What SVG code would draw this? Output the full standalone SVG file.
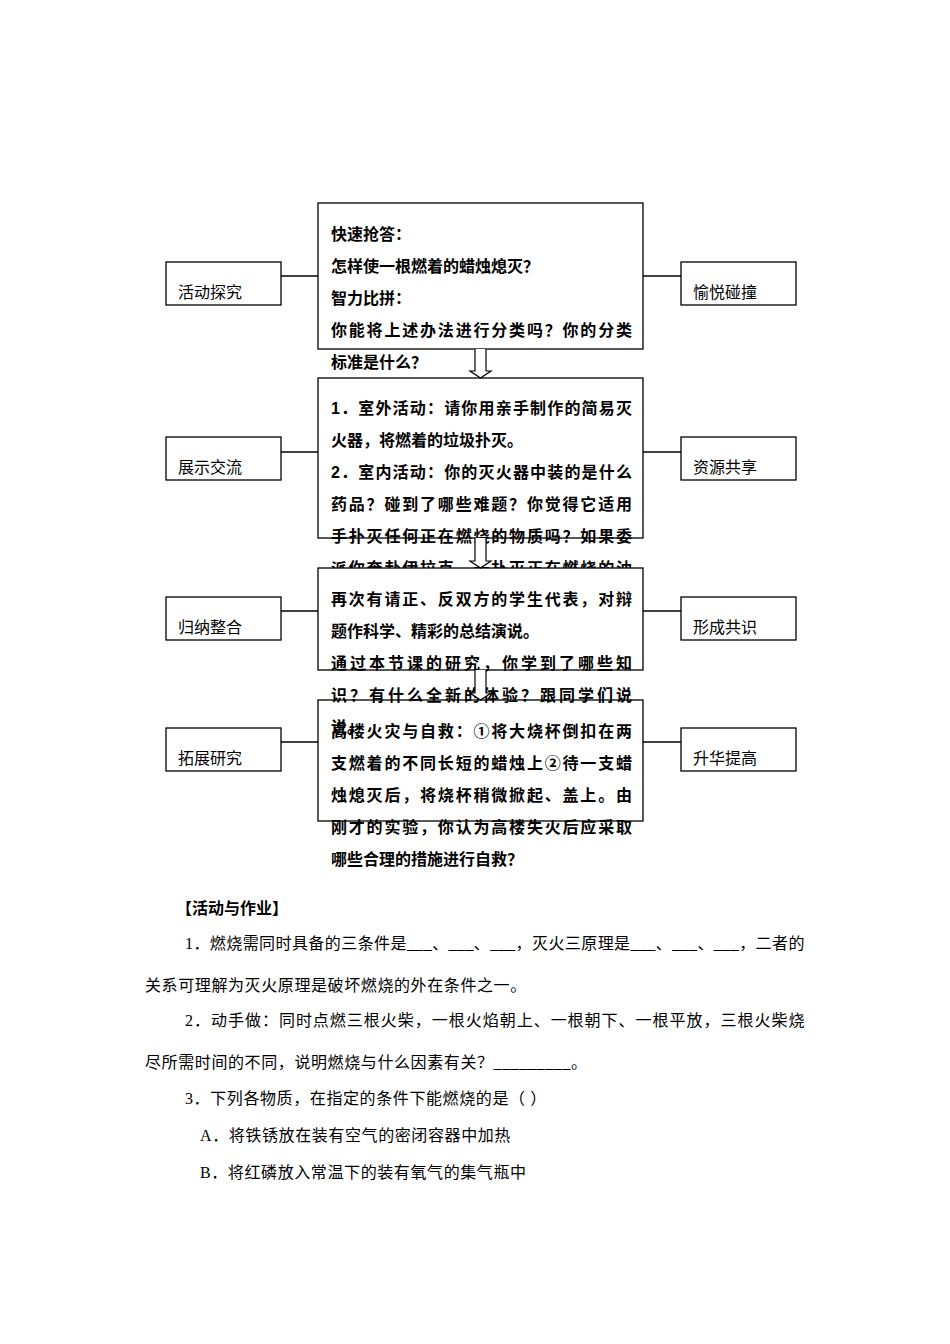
<svg xmlns="http://www.w3.org/2000/svg" width="950" height="1344" viewBox="0 0 950 1344">
<style>
.bg{fill:#fff}
.box{fill:#fff;stroke:#000;stroke-width:1.3}
.bt{font-family:"Liberation Sans","Noto Sans CJK SC",sans-serif;font-size:16px;font-weight:bold;fill:#000}
.lb{font-family:"Liberation Sans","Noto Sans CJK SC",sans-serif;font-size:16px;fill:#000}
.ln{stroke:#000;stroke-width:1.3;fill:none}
.arr{fill:#fff;stroke:#000;stroke-width:1.2;stroke-linejoin:miter}
.pt{font-family:"Liberation Serif","Noto Sans CJK SC",serif;font-size:16px;letter-spacing:0.6px;fill:#000}
.hd{font-family:"Liberation Sans","Noto Sans CJK SC",sans-serif;font-size:16px;font-weight:bold;fill:#000}
</style>
<rect class="bg" x="0" y="0" width="950" height="1344"/>

<g id="node-box1">
<rect class="box" x="318" y="203" width="325" height="146"/>
<text class="bt" x="331" y="240">快速抢答：</text>
<text class="bt" x="331" y="272">怎样使一根燃着的蜡烛熄灭？</text>
<text class="bt" x="331" y="304">智力比拼：</text>
<text class="bt" x="331" y="336" textLength="301" lengthAdjust="spacing">你能将上述办法进行分类吗？你的分类</text>
<text class="bt" x="331" y="368">标准是什么？</text>
</g>

<g id="node-box2">
<rect class="box" x="318" y="378" width="325" height="160"/>
<text class="bt" x="331" y="414" textLength="301" lengthAdjust="spacing">1．室外活动：请你用亲手制作的简易灭</text>
<text class="bt" x="331" y="446">火器，将燃着的垃圾扑灭。</text>
<text class="bt" x="331" y="478" textLength="301" lengthAdjust="spacing">2．室内活动：你的灭火器中装的是什么</text>
<text class="bt" x="331" y="510" textLength="301" lengthAdjust="spacing">药品？碰到了哪些难题？你觉得它适用</text>
<text class="bt" x="331" y="542" textLength="301" lengthAdjust="spacing">手扑灭任何正在燃烧的物质吗？如果委</text>
<text class="bt" x="331" y="574" textLength="301" lengthAdjust="spacing">派你奔赴伊拉克，去扑灭正在燃烧的油</text>
</g>

<g id="node-box4">
<rect class="box" x="318" y="700" width="325" height="121"/>
<text class="bt" x="331" y="737" textLength="301" lengthAdjust="spacing">高楼火灾与自救：①将大烧杯倒扣在两</text>
<text class="bt" x="331" y="769" textLength="301" lengthAdjust="spacing">支燃着的不同长短的蜡烛上②待一支蜡</text>
<text class="bt" x="331" y="801" textLength="301" lengthAdjust="spacing">烛熄灭后，将烧杯稍微掀起、盖上。由</text>
<text class="bt" x="331" y="833" textLength="301" lengthAdjust="spacing">刚才的实验，你认为高楼失火后应采取</text>
<text class="bt" x="331" y="865">哪些合理的措施进行自救？</text>
</g>

<g id="node-box3">
<rect class="box" x="318" y="568" width="325" height="102"/>
<text class="bt" x="331" y="605" textLength="301" lengthAdjust="spacing">再次有请正、反双方的学生代表，对辩</text>
<text class="bt" x="331" y="637">题作科学、精彩的总结演说。</text>
<text class="bt" x="331" y="669" textLength="301" lengthAdjust="spacing">通过本节课的研究，你学到了哪些知</text>
<text class="bt" x="331" y="701" textLength="301" lengthAdjust="spacing">识？有什么全新的体验？跟同学们说</text>
<text class="bt" x="331" y="733">说。</text>
</g>

<g id="node-l1"><rect class="box" x="166" y="262" width="115" height="43"/><text class="lb" x="178" y="298">活动探究</text></g>
<g id="node-l2"><rect class="box" x="166" y="437" width="115" height="43"/><text class="lb" x="178" y="473">展示交流</text></g>
<g id="node-l3"><rect class="box" x="166" y="597" width="115" height="43"/><text class="lb" x="178" y="633">归纳整合</text></g>
<g id="node-l4"><rect class="box" x="166" y="728" width="115" height="43"/><text class="lb" x="178" y="764">拓展研究</text></g>

<g id="node-r1"><rect class="box" x="681" y="262" width="115" height="43"/><text class="lb" x="693" y="298">愉悦碰撞</text></g>
<g id="node-r2"><rect class="box" x="681" y="437" width="115" height="43"/><text class="lb" x="693" y="473">资源共享</text></g>
<g id="node-r3"><rect class="box" x="681" y="597" width="115" height="43"/><text class="lb" x="693" y="633">形成共识</text></g>
<g id="node-r4"><rect class="box" x="681" y="728" width="115" height="43"/><text class="lb" x="693" y="764">升华提高</text></g>

<g id="connectors">
<line class="ln" x1="281" y1="276" x2="318" y2="276"/>
<line class="ln" x1="643" y1="276" x2="681" y2="276"/>
<line class="ln" x1="281" y1="452" x2="318" y2="452"/>
<line class="ln" x1="643" y1="452" x2="681" y2="452"/>
<line class="ln" x1="281" y1="611" x2="318" y2="611"/>
<line class="ln" x1="643" y1="611" x2="681" y2="611"/>
<line class="ln" x1="281" y1="742" x2="318" y2="742"/>
<line class="ln" x1="643" y1="742" x2="681" y2="742"/>
<path class="arr" d="M475,349 V371 H470 L480.5,378 L491,371 H486 V349"/>
<path class="arr" d="M475,538 V561 H470 L480.5,568 L491,561 H486 V538"/>
<path class="arr" d="M475,670 V693 H470 L480.5,700 L491,693 H486 V670"/>
</g>

<g id="homework">
<text class="hd" x="176" y="914">【活动与作业】</text>
<text class="pt" x="185" y="949" textLength="620" lengthAdjust="spacing">1．燃烧需同时具备的三条件是___、___、___，灭火三原理是___、___、___，二者的</text>
<text class="pt" x="145" y="991">关系可理解为灭火原理是破坏燃烧的外在条件之一。</text>
<text class="pt" x="185" y="1026" textLength="620" lengthAdjust="spacing">2．动手做：同时点燃三根火柴，一根火焰朝上、一根朝下、一根平放，三根火柴烧</text>
<text class="pt" x="145" y="1068">尽所需时间的不同，说明燃烧与什么因素有关？_________。</text>
<text class="pt" x="185" y="1104">3．下列各物质，在指定的条件下能燃烧的是（ ）</text>
<text class="pt" x="200" y="1141">A．将铁锈放在装有空气的密闭容器中加热</text>
<text class="pt" x="200" y="1178">B．将红磷放入常温下的装有氧气的集气瓶中</text>
</g>
</svg>
